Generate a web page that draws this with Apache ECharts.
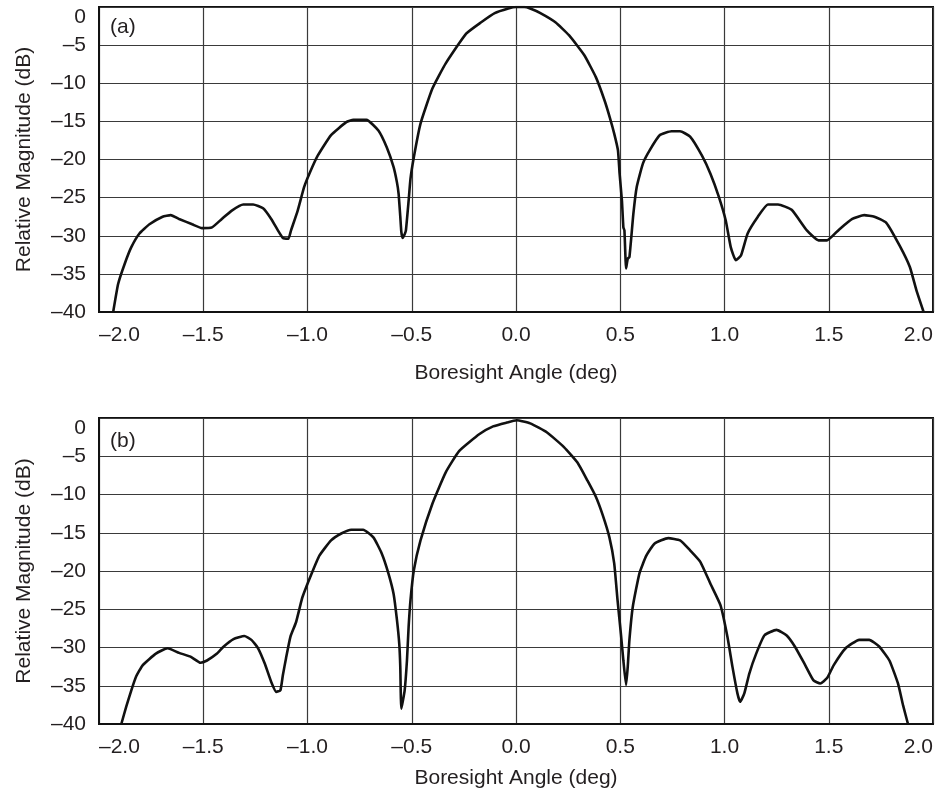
<!DOCTYPE html>
<html>
<head>
<meta charset="utf-8">
<script src="https://cdn.jsdelivr.net/npm/echarts@6/dist/echarts.min.js"></script>
<style>
html,body{margin:0;padding:0;background:#fff;}
#chart{width:936px;height:800px;}
</style>
</head>
<body>
<div id="chart"></div>
<script>
// Panel (a)
const aAngle = [-1.932,-1.908,-1.877,-1.845,-1.806,-1.758,-1.695,-1.656,-1.616,-1.553,-1.506,-1.458,-1.411,-1.363,-1.308,-1.261,-1.213,-1.174,-1.142,-1.118,-1.092,-1.079,-1.047,-1.016,-0.99,-0.951,-0.887,-0.814,-0.78,-0.717,-0.66,-0.62,-0.587,-0.571,-0.563,-0.555,-0.55,-0.544,-0.534,-0.528,-0.515,-0.506,-0.49,-0.458,-0.401,-0.337,-0.239,-0.167,-0.102,-0.037,0.0,0.04,0.068,0.117,0.189,0.254,0.327,0.383,0.424,0.45,0.471,0.489,0.497,0.508,0.515,0.52,0.528,0.536,0.544,0.563,0.579,0.609,0.641,0.69,0.746,0.787,0.835,0.892,0.933,0.973,1.006,1.03,1.054,1.079,1.111,1.16,1.208,1.257,1.322,1.395,1.451,1.492,1.549,1.613,1.67,1.719,1.776,1.84,1.889,1.921,1.955];
const aMag = [-40,-36.3,-33.7,-31.5,-29.7,-28.5,-27.5,-27.3,-27.8,-28.5,-29.0,-28.9,-27.8,-26.7,-25.9,-25.9,-26.4,-27.8,-29.3,-30.3,-30.4,-29.3,-26.7,-23.6,-21.8,-19.5,-16.8,-15.1,-14.8,-14.8,-16.2,-18.4,-21.0,-23.0,-24.5,-27.5,-29.5,-30.3,-29.8,-29.3,-25.4,-22.5,-19.7,-15.3,-10.7,-7.4,-3.5,-2.0,-0.8,-0.2,0,0,-0.2,-0.8,-2.0,-3.7,-6.3,-9.2,-12.2,-14.5,-16.6,-18.8,-21.9,-25.4,-28.9,-29.3,-34.3,-33.0,-32.8,-27.1,-23.6,-20.5,-18.8,-16.8,-16.3,-16.3,-17.0,-19.5,-21.9,-24.9,-28.0,-31.5,-33.2,-32.6,-29.7,-27.5,-25.9,-25.9,-26.6,-29.3,-30.6,-30.6,-29.2,-27.8,-27.3,-27.5,-28.3,-31.3,-34.1,-37.2,-40];
// Panel (b)
const bAngle = [-1.893,-1.869,-1.845,-1.822,-1.79,-1.727,-1.671,-1.616,-1.561,-1.513,-1.482,-1.434,-1.403,-1.355,-1.303,-1.269,-1.237,-1.205,-1.174,-1.15,-1.13,-1.118,-1.103,-1.082,-1.055,-1.032,-1.024,-0.984,-0.943,-0.887,-0.838,-0.79,-0.733,-0.684,-0.644,-0.612,-0.587,-0.571,-0.56,-0.555,-0.55,-0.534,-0.523,-0.515,-0.506,-0.49,-0.458,-0.401,-0.337,-0.272,-0.175,-0.11,-0.045,0.003,0.068,0.149,0.23,0.294,0.343,0.383,0.416,0.448,0.471,0.487,0.503,0.515,0.528,0.536,0.544,0.56,0.592,0.625,0.665,0.73,0.787,0.835,0.884,0.933,0.981,1.014,1.038,1.062,1.075,1.095,1.119,1.152,1.192,1.249,1.297,1.338,1.387,1.427,1.459,1.492,1.524,1.581,1.646,1.694,1.743,1.791,1.832,1.856,1.88];
const bMag = [-40,-37.7,-35.6,-33.8,-32.3,-30.8,-30.1,-30.7,-31.2,-32.0,-31.7,-30.8,-29.9,-28.9,-28.5,-29.0,-30.1,-32.1,-34.5,-35.8,-35.6,-33.6,-31.4,-28.6,-26.7,-24.2,-23.4,-20.6,-18.0,-16.0,-15.1,-14.6,-14.6,-15.6,-17.7,-20.3,-23.0,-26.4,-29.5,-32.5,-38.0,-35.6,-31.7,-27.3,-23.8,-19.9,-16.0,-11.2,-7.1,-4.3,-2.1,-1.1,-0.6,-0.3,-0.7,-1.9,-3.8,-5.8,-8.2,-10.3,-12.7,-15.6,-19.0,-23.8,-28.2,-31.7,-34.9,-32.5,-29.0,-24.7,-20.3,-18.0,-16.4,-15.7,-16.0,-17.3,-18.8,-21.7,-24.5,-28.6,-32.5,-36.0,-37.1,-36.0,-33.4,-30.8,-28.4,-27.7,-28.4,-29.9,-32.3,-34.3,-34.7,-34.0,-32.3,-30.1,-29.0,-29.0,-29.9,-31.7,-34.7,-37.5,-40];
const panelLabels = ['(a)', '(b)'];
const xTitle = 'Boresight Angle (deg)';
const yTitle = 'Relative Magnitude (dB)';

const FONT = "'Liberation Sans', Arial, Helvetica, sans-serif";
const TXT = '#231f20';
const fmtX = v => (v < 0 ? '\u2013' : '') + Math.abs(v).toFixed(1);
const fmtY = v => (v < 0 ? '\u2013' : '') + Math.abs(v);

function pairs(xs, ys){ return xs.map((x,i)=>[x, ys[i]]); }

const grids = [
  {left: 99, top: 7, width: 834, height: 305},
  {left: 99, top: 418, width: 834, height: 306}
];
const xNameGaps = [51, 44];

const option = {
  animation: false,
  backgroundColor: '#fff',
  title: panelLabels.map((t,i)=>({
    text: t, left: 110, top: i===0 ? 17 : 431, padding: 0,
    textStyle: {fontFamily: FONT, fontSize: 21, fontWeight: 'normal', color: TXT}
  })),
  grid: grids.map(g => Object.assign({show: true, borderColor: '#111', borderWidth: 2, backgroundColor: 'transparent'}, g)),
  xAxis: grids.map((g,i)=>({
    type: 'value', gridIndex: i, min: -2, max: 2, interval: 0.5,
    name: xTitle, nameLocation: 'middle', nameGap: xNameGaps[i],
    nameTextStyle: {fontFamily: FONT, fontSize: 21, color: TXT},
    axisLine: {show: true, onZero: false, lineStyle: {color: '#111', width: 2}},
    axisTick: {show: false},
    axisLabel: {formatter: fmtX, fontFamily: FONT, fontSize: 21, color: TXT, margin: 13,
      alignMinLabel: 'left', alignMaxLabel: 'right'},
    splitLine: {show: true, lineStyle: {color: '#3a3a3a', width: 1.2}}
  })),
  yAxis: grids.map((g,i)=>({
    type: 'value', gridIndex: i, min: -40, max: 0, interval: 5,
    name: yTitle, nameLocation: 'middle', nameGap: 64,
    nameTextStyle: {fontFamily: FONT, fontSize: 21, color: TXT},
    axisLine: {show: true, onZero: false, lineStyle: {color: '#111', width: 2}},
    axisTick: {show: false},
    axisLabel: {formatter: fmtY, fontFamily: FONT, fontSize: 21, color: TXT, margin: 13,
      verticalAlignMaxLabel: 'top'},
    splitLine: {show: true, lineStyle: {color: '#3a3a3a', width: 1.2}}
  })),
  series: [
    {type: 'line', xAxisIndex: 0, yAxisIndex: 0, data: pairs(aAngle, aMag), showSymbol: false,
     clip: true, lineStyle: {color: '#111', width: 2.6}, smooth: 0.15},
    {type: 'line', xAxisIndex: 1, yAxisIndex: 1, data: pairs(bAngle, bMag), showSymbol: false,
     clip: true, lineStyle: {color: '#111', width: 2.6}, smooth: 0.15}
  ]
};
const chart = echarts.init(document.getElementById('chart'), null, {renderer: 'canvas'});
chart.setOption(option);
</script>
</body>
</html>
